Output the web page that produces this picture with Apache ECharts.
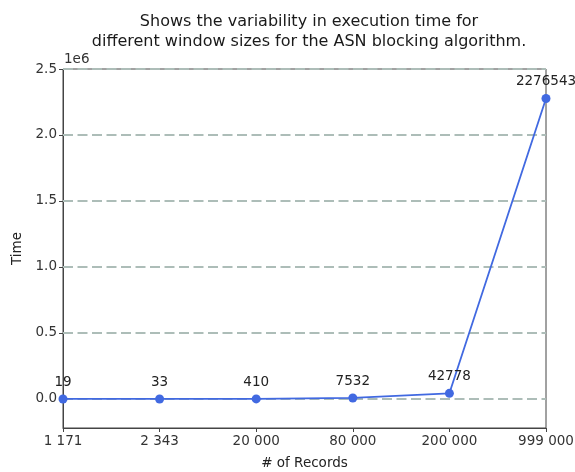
<!DOCTYPE html>
<html><head><meta charset="utf-8">
<script src="https://cdn.jsdelivr.net/npm/echarts@6/dist/echarts.min.js"></script>
<style>html,body{margin:0;padding:0;background:#fff}#c{width:575px;height:472px}</style>
</head><body><div id="c"></div>
<script>
const categories = ['1 171', '2 343', '20 000', '80 000', '200 000', '999 000'];
const times = [19, 33, 410, 7532, 42778, 2276543];
const yTicks = [0, 500000, 1000000, 1500000, 2000000, 2500000];
const titleText = 'Shows the variability in execution time for\ndifferent window sizes for the ASN blocking algorithm.';

const font = 'DejaVu Sans';
const chart = echarts.init(document.getElementById('c'), null, {renderer: 'canvas'});
chart.setOption({
  animation: false,
  backgroundColor: '#fff',
  title: {
    text: titleText, left: 304, top: 7, textAlign: 'center',
    textStyle: {fontFamily: font, fontSize: 16, fontWeight: 'normal', color: '#1a1a1a', lineHeight: 20}
  },
  graphic: [{type: 'text', left: 64, top: 52, style: {text: '1e6', font: '13.5px "DejaVu Sans"', fill: '#333'}}],
  grid: {left: 63, right: 29, top: 69, bottom: 44, show: true, borderColor: '#444', borderWidth: 1,
    backgroundColor: 'transparent', containLabel: false, outerBoundsMode: 'none'},
  xAxis: {
    type: 'category', data: categories, boundaryGap: false,
    name: '# of Records', nameLocation: 'middle', nameGap: 28,
    nameTextStyle: {fontFamily: font, fontSize: 13.5, color: '#222'},
    axisLine: {onZero: false, lineStyle: {color: '#444'}},
    axisTick: {show: true, alignWithLabel: true, length: 4, inside: false, lineStyle: {color: '#444'}},
    axisLabel: {fontFamily: font, fontSize: 13.5, color: '#333', margin: 6, hideOverlap: false},
    splitLine: {show: false}
  },
  yAxis: {
    type: 'value', min: -220000, max: 2500000,
    name: 'Time', nameLocation: 'middle', nameGap: 38,
    nameTextStyle: {fontFamily: font, fontSize: 13.5, color: '#222'},
    axisLine: {show: true, lineStyle: {color: '#444'}},
    axisTick: {show: true, length: 4, customValues: yTicks, lineStyle: {color: '#444'}},
    axisLabel: {fontFamily: font, fontSize: 13.5, color: '#333', margin: 6, customValues: yTicks,
      formatter: v => (v / 1e6).toFixed(1)},
    splitLine: {show: false}
  },
  series: [{
    type: 'line', data: times,
    symbol: 'circle', symbolSize: 9,
    lineStyle: {color: '#4169E1', width: 1.8},
    itemStyle: {color: '#4169E1'},
    label: {show: true, position: 'top', distance: 5, fontFamily: font, fontSize: 13.5, color: '#222'},
    z: 3,
    markLine: {
      silent: true, symbol: 'none', z: 1,
      label: {show: false},
      lineStyle: {type: [10, 4.5], color: '#adbdb8', width: 2},
      data: yTicks.map(v => ({yAxis: v}))
    }
  }]
});
</script></body></html>
